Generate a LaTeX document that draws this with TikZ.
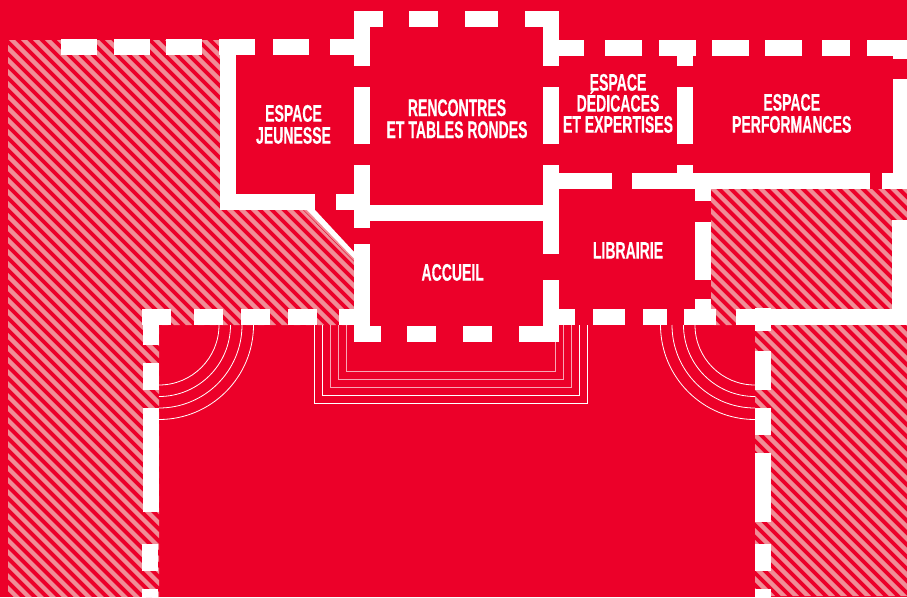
\documentclass[tikz,border=0pt]{standalone}
\usepackage{fontspec}
\newfontfamily\lab[FakeStretch=0.585,FakeBold=0.3]{Liberation Sans}
\definecolor{redbg}{HTML}{EC0029}
\definecolor{hatchpink}{HTML}{F08D97}
\tikzset{
  wall/.style={fill=white,draw=none},
  stripe/.style={draw=hatchpink,line width=4.25pt},
  thin/.style={draw=white,line width=0.8pt},
  thinpale/.style={draw=white,draw opacity=0.65,line width=0.8pt},
  roomlabel/.style={text=white,font=\lab\bfseries\fontsize{24}{22}\selectfont,align=center,inner sep=0pt,anchor=base}
}
\begin{document}
\begin{tikzpicture}[x=1pt,y=-1pt]
\useasboundingbox (0,0) rectangle (907,597);
\fill[redbg] (0,0) rectangle (907,597);
% hatched zones
\begin{scope}
\clip (8,40) -- (220,40) -- (220,210) -- (303,210) -- (354,262) -- (354,325) -- (159,325) -- (159,597) -- (8,597) -- cycle
      (711,189) -- (907,189) -- (907,220) -- (892,220) -- (892,309) -- (736,309) -- (736,325) -- (711,325) -- cycle
      (755,325) -- (907,325) -- (907,596) -- (755,596) -- cycle;
\foreach \c in {-604,-592,...,900}
  \draw[stripe] ({\c-50},-50) -- ({\c+750},750);
\end{scope}
% diagonal wall
\fill[hatchpink] (304,210) -- (315,210) -- (354,252) -- (354,261) -- cycle;
\fill[white] (307,210) -- (315,210) -- (354,252) -- (354,258.5) -- cycle;
% door arcs
\foreach \r in {60,71.5,83,94.5} {
  \draw[thin] (159,{325+\r}) arc[start angle=90,end angle=0,x radius=\r,y radius=\r];
  \draw[thin] (755,{325+\r}) arc[start angle=90,end angle=180,x radius=\r,y radius=\r];
}
% nested entrance lines
\draw[thin] (314.5,325) -- (314.5,403.7) -- (587.7,403.7) -- (587.7,325);
\draw[thin] (322.4,325) -- (322.4,395.5) -- (579.7,395.5) -- (579.7,325);
\draw[thinpale] (330.4,325) -- (330.4,387.3) -- (571.7,387.3) -- (571.7,325);
\draw[thinpale] (338.4,325) -- (338.4,379.2) -- (563.7,379.2) -- (563.7,325);
\draw[thinpale] (346.7,325) -- (346.7,371) -- (555.7,371) -- (555.7,325);
% walls
\foreach \a/\b/\c/\d in {
  61/39/97/55, 114/39/150/55, 166/39/202/55, 219/39/255/55, 273/39/309/55, 330/39/354/55,
  220/55/236/194, 220/194/315/210, 336/194/354/210,
  354/11/370/66, 354/87/370/144, 354/165/370/228, 354/244/370/342,
  354/11/383/27, 409/11/438/27, 465/11/498/27, 525/11/559/27,
  543/11/559/66, 543/87/559/144, 543/165/559/254, 543/280/559/326,
  370/205/544/221,
  559/40/584/56, 605/40/642/56, 659/40/696/56, 712/40/749/56, 765/40/802/56, 822/40/850/56, 867/40/893/56, 893/40/907/59,
  677/56/693/66, 677/87/693/144, 677/165/693/189,
  893/79/907/189,
  559/173/612/189, 632/173/870/189, 882/173/907/189,
  695/189/711/201, 695/222/711/280, 695/299/711/325,
  892/220/907/325,
  559/309/575/325, 593/309/625/325, 643/309/667/325, 684/309/716/325, 736/309/907/325,
  755/308/771/331, 755/351/771/390, 755/408/771/435, 755/453/771/522, 755/544/771/571, 755/589/771/597,
  142/309/171/325, 194/309/223/325, 241/309/270/325, 288/309/317/325, 339/309/354/325,
  143/325/159/345, 143/363/159/390, 143/408/159/512, 142/544/158/571, 142/589/158/597,
  354/326/381/342, 407/326/436/342, 463/326/492/342, 519/326/559/342
} \fill[wall] (\a,\b) rectangle (\c,\d);
% labels
\node[roomlabel] (jeunesse) at (293.5,143.7) {ESPACE\\JEUNESSE};
\node[roomlabel] (rencontres) at (457,138) {RENCONTRES\\ET TABLES RONDES};
\node[roomlabel] (dedicaces) at (618,132.7) {ESPACE\\[-1pt]DÉDICACES\\[-1pt]ET EXPERTISES};
\node[roomlabel] (performances) at (791.7,132.7) {ESPACE\\PERFORMANCES};
\node[roomlabel] (librairie) at (628,258.7) {LIBRAIRIE};
\node[roomlabel] (accueil) at (452.7,280.7) {ACCUEIL};
\end{tikzpicture}
\end{document}
